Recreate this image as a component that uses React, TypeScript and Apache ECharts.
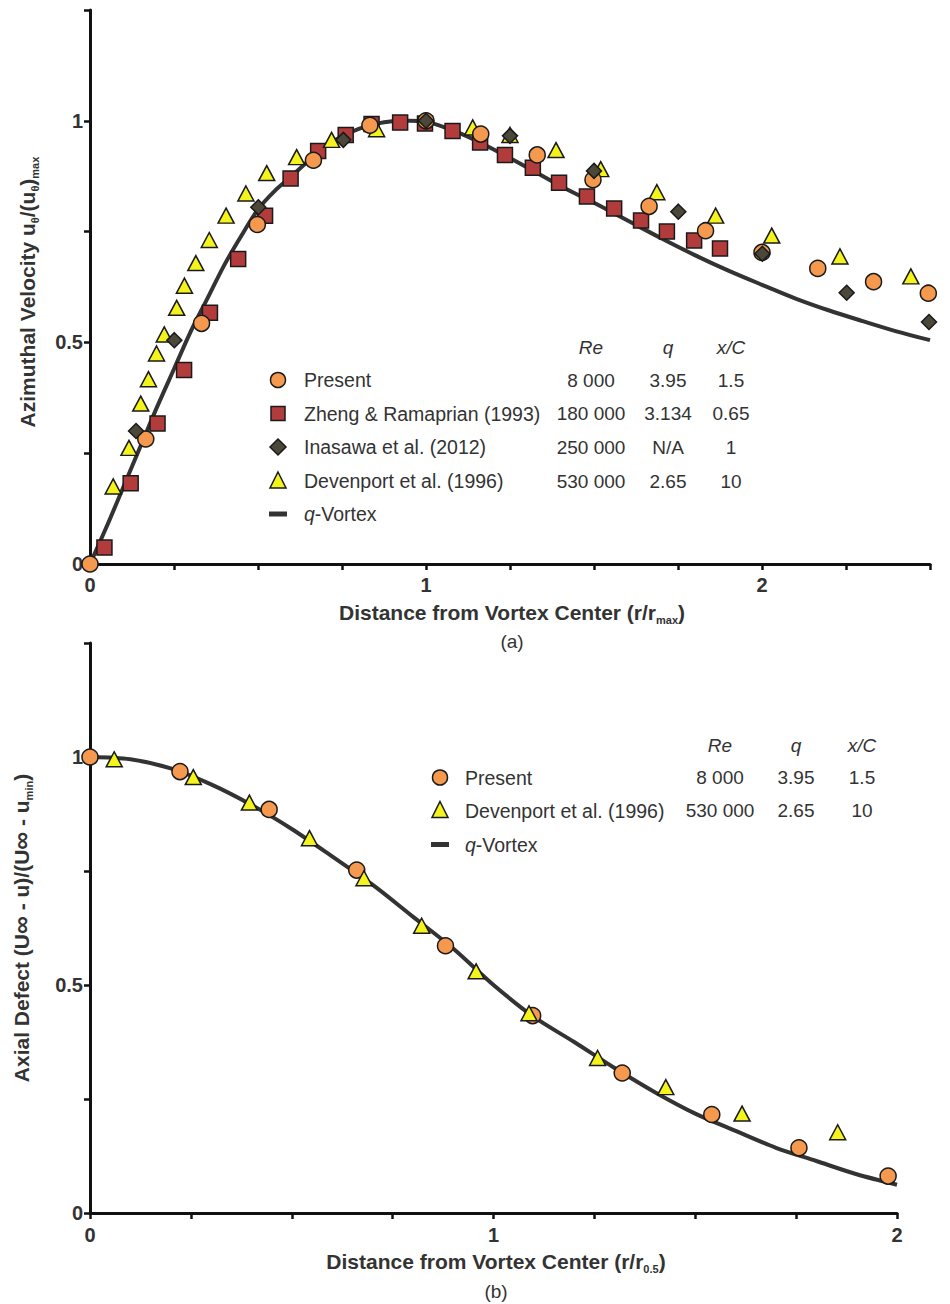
import { useEffect, useRef } from "react";
import * as echarts from "echarts";

const FONT = '"Liberation Sans", Arial, Helvetica, sans-serif';
const INK = "#333333";
const AXIS = "#111111";
const EDGE = "#1a1a1a";

const ORANGE = "#f5994e";
const BRICK = "#b23c3c";
const OLIVE = "#4b4739";
const YELLOW = "#f4f41c";

// ---------- Panel (a): azimuthal velocity vs r/r_max ----------
const presentA_r = [0, 0.166, 0.332, 0.498, 0.665, 0.833, 1.0, 1.163, 1.331, 1.497, 1.664, 1.832, 2.0, 2.166, 2.332, 2.495];
const presentA_u = [0, 0.282, 0.543, 0.766, 0.911, 0.99, 1.0, 0.97, 0.923, 0.867, 0.807, 0.752, 0.703, 0.667, 0.637, 0.611];

const zhengA_r = [0.043, 0.121, 0.201, 0.28, 0.357, 0.441, 0.521, 0.597, 0.679, 0.761, 0.838, 0.923, 0.997, 1.079, 1.161, 1.235, 1.318, 1.396, 1.479, 1.56, 1.64, 1.717, 1.798, 1.875];
const zhengA_u = [0.037, 0.182, 0.317, 0.438, 0.567, 0.688, 0.786, 0.87, 0.932, 0.968, 0.993, 0.996, 0.994, 0.977, 0.951, 0.923, 0.894, 0.86, 0.829, 0.802, 0.775, 0.75, 0.73, 0.712];

const inasawaA_r = [0.137, 0.251, 0.501, 0.754, 1.0, 1.25, 1.5, 1.751, 2.001, 2.252, 2.497];
const inasawaA_u = [0.3, 0.505, 0.805, 0.957, 1.0, 0.966, 0.887, 0.795, 0.7, 0.612, 0.546];

const devenportA_r = [0.069, 0.116, 0.151, 0.174, 0.198, 0.221, 0.258, 0.281, 0.315, 0.355, 0.405, 0.464, 0.526, 0.615, 0.719, 0.853, 1.139, 1.25, 1.387, 1.52, 1.687, 1.862, 2.029, 2.232, 2.443];
const devenportA_u = [0.175, 0.262, 0.362, 0.417, 0.475, 0.518, 0.578, 0.628, 0.679, 0.731, 0.786, 0.836, 0.882, 0.918, 0.957, 0.981, 0.985, 0.968, 0.934, 0.891, 0.839, 0.786, 0.741, 0.694, 0.649];

const qVortexA_r = [0, 0.05, 0.1, 0.15, 0.2, 0.25, 0.3, 0.35, 0.4, 0.45, 0.5, 0.55, 0.6, 0.65, 0.7, 0.75, 0.8, 0.85, 0.9, 0.95, 1.0, 1.1, 1.2, 1.3, 1.4, 1.5, 1.6, 1.7, 1.8, 1.9, 2.0, 2.1, 2.2, 2.3, 2.4, 2.5];
const qVortexA_u = [0, 0.085, 0.175, 0.265, 0.355, 0.44, 0.525, 0.6, 0.675, 0.74, 0.8, 0.842, 0.875, 0.91, 0.942, 0.965, 0.982, 0.993, 0.999, 1.0, 0.998, 0.972, 0.936, 0.895, 0.853, 0.815, 0.775, 0.735, 0.697, 0.662, 0.63, 0.599, 0.572, 0.548, 0.525, 0.505];

// ---------- Panel (b): axial defect vs r/r_0.5 ----------
const presentB_r = [0, 0.223, 0.444, 0.661, 0.881, 1.097, 1.319, 1.541, 1.757, 1.978];
const presentB_w = [1.0, 0.968, 0.885, 0.752, 0.586, 0.433, 0.307, 0.216, 0.143, 0.081];

const devenportB_r = [0.06, 0.256, 0.395, 0.544, 0.679, 0.822, 0.957, 1.088, 1.258, 1.427, 1.616, 1.853];
const devenportB_w = [0.995, 0.956, 0.9, 0.822, 0.734, 0.63, 0.53, 0.438, 0.34, 0.276, 0.218, 0.177];

const qVortexB_r = [0, 0.1, 0.2, 0.3, 0.4, 0.5, 0.6, 0.7, 0.8, 0.9, 1.0, 1.1, 1.2, 1.3, 1.4, 1.5, 1.6, 1.7, 1.8, 1.9, 2.0];
const qVortexB_w = [1.0, 0.995, 0.975, 0.94, 0.895, 0.842, 0.782, 0.72, 0.65, 0.58, 0.5, 0.43, 0.375, 0.318, 0.265, 0.218, 0.18, 0.143, 0.114, 0.085, 0.062];

// ---------- Legend tables ----------
const tableHeaders = ["Re", "q", "x/C"];
const tableA = [
  { name: "Present", marker: "circle", values: ["8 000", "3.95", "1.5"] },
  { name: "Zheng & Ramaprian (1993)", marker: "square", values: ["180 000", "3.134", "0.65"] },
  { name: "Inasawa et al. (2012)", marker: "diamond", values: ["250 000", "N/A", "1"] },
  { name: "Devenport et al. (1996)", marker: "triangle", values: ["530 000", "2.65", "10"] },
  { name: "q-Vortex", marker: "bar", values: [] as string[] },
];
const tableB = [
  { name: "Present", marker: "circle", values: ["8 000", "3.95", "1.5"] },
  { name: "Devenport et al. (1996)", marker: "triangle", values: ["530 000", "2.65", "10"] },
  { name: "q-Vortex", marker: "bar", values: [] as string[] },
];

const xTicksLabelled = [0, 1, 2];
const yTicksLabelled = [0, 0.5, 1];

const zip = (xs: number[], ys: number[]) => xs.map((x, i) => [x, ys[i]]);

const markerStyle = (fill: string) => ({ color: fill, borderColor: EDGE, borderWidth: 1.5, opacity: 1 });

function legendMarker(kind: string, cx: number, cy: number): any {
  const st = { stroke: EDGE, lineWidth: 1.5 };
  switch (kind) {
    case "circle":
      return { type: "circle", z: 100, shape: { cx, cy, r: 7.5 }, style: { ...st, fill: ORANGE } };
    case "square":
      return { type: "rect", z: 100, shape: { x: cx - 7, y: cy - 7, width: 14, height: 14 }, style: { ...st, fill: BRICK } };
    case "diamond":
      return { type: "polygon", z: 100, shape: { points: [[cx, cy - 8], [cx + 8, cy], [cx, cy + 8], [cx - 8, cy]] }, style: { ...st, fill: OLIVE } };
    case "triangle":
      return { type: "polygon", z: 100, shape: { points: [[cx, cy - 9], [cx + 8, cy + 7], [cx - 8, cy + 7]] }, style: { ...st, fill: YELLOW } };
    default:
      return { type: "rect", z: 100, shape: { x: cx - 9, y: cy - 2.5, width: 18, height: 5 }, style: { fill: INK } };
  }
}

function text(x: number, y: number, t: string, opts: any = {}): any {
  return {
    type: "text",
    z: 100,
    x,
    y,
    style: {
      text: t,
      fontSize: opts.size ?? 19,
      fontFamily: FONT,
      fontStyle: opts.italic ? "italic" : "normal",
      fontWeight: opts.bold ? "bold" : "normal",
      fill: INK,
      align: opts.align ?? "left",
      verticalAlign: "middle",
    },
  };
}

function legendTable(
  rows: typeof tableA,
  markerX: number,
  textX: number,
  headerY: number,
  rowYs: number[],
  colX: number[]
): any[] {
  const out: any[] = [];
  tableHeaders.forEach((h, i) => out.push(text(colX[i], headerY, h, { italic: true, align: "center" })));
  rows.forEach((row, r) => {
    out.push(legendMarker(row.marker, markerX, rowYs[r]));
    if (row.name === "q-Vortex") {
      out.push({
        type: "text",
        z: 100,
        x: textX,
        y: rowYs[r],
        style: {
          text: "{i|q}{n|-Vortex}",
          align: "left",
          verticalAlign: "middle",
          rich: {
            i: { fontSize: 19.5, fontFamily: FONT, fontStyle: "italic", fill: INK },
            n: { fontSize: 19.5, fontFamily: FONT, fill: INK },
          },
        },
      });
    } else {
      out.push(text(textX, rowYs[r], row.name, { size: 19.5 }));
    }
    row.values.forEach((v, c) => out.push(text(colX[c], rowYs[r], v, { align: "center" })));
  });
  return out;
}

const titleRich = {
  t: { fontSize: 21, fontWeight: "bold", fontFamily: FONT, fill: INK, lineHeight: 26 },
  inf: { fontSize: 25, fontWeight: "bold", fontFamily: FONT, fill: INK, lineHeight: 26 },
  s: { fontSize: 11, fontWeight: "bold", fontFamily: FONT, fill: INK, lineHeight: 11, verticalAlign: "bottom" },
};

function title(x: number, y: number, t: string, rotate = false): any {
  return {
    type: "text",
    z: 100,
    x,
    y,
    rotation: rotate ? Math.PI / 2 : 0,
    style: { text: t, align: "center", verticalAlign: "middle", rich: titleRich },
  };
}

function axisCommon(labelled: number[], margin: number) {
  return {
    axisLine: { show: true, onZero: false, lineStyle: { color: AXIS, width: 3 } },
    axisTick: { show: true, inside: false, length: 6, lineStyle: { color: AXIS, width: 2.5 } },
    splitLine: { show: false },
    axisLabel: {
      margin,
      color: INK,
      fontSize: 20,
      fontWeight: "bold",
      fontFamily: FONT,
      formatter: (v: number) => (labelled.some((l) => Math.abs(l - v) < 1e-9) ? String(v) : ""),
    },
  };
}

export default function App() {
  const ref = useRef<HTMLDivElement>(null);

  useEffect(() => {
    document.body.style.margin = "0";
    if (!ref.current) return;
    const chart = echarts.init(ref.current, undefined, { renderer: "svg" });

    const option: any = {
      animation: false,
      backgroundColor: "#ffffff",
      grid: [
        { left: 90, top: 10, width: 840, height: 554 },
        { left: 90, top: 643, width: 807, height: 570 },
      ],
      xAxis: [
        { type: "value", gridIndex: 0, min: 0, max: 2.5, interval: 0.25, ...axisCommon(xTicksLabelled, 11) },
        { type: "value", gridIndex: 1, min: 0, max: 2, interval: 0.25, ...axisCommon(xTicksLabelled, 12) },
      ],
      yAxis: [
        { type: "value", gridIndex: 0, min: 0, max: 1.25, interval: 0.25, ...axisCommon(yTicksLabelled, 7) },
        { type: "value", gridIndex: 1, min: 0, max: 1.25, interval: 0.25, ...axisCommon(yTicksLabelled, 7) },
      ],
      series: [
        {
          name: "q-Vortex (a)",
          type: "line",
          xAxisIndex: 0,
          yAxisIndex: 0,
          data: zip(qVortexA_r, qVortexA_u),
          symbol: "none",
          smooth: 0.3,
          lineStyle: { color: INK, width: 4 },
          z: 2,
        },
        {
          name: "Zheng & Ramaprian (1993)",
          type: "scatter",
          xAxisIndex: 0,
          yAxisIndex: 0,
          data: zip(zhengA_r, zhengA_u),
          symbol: "rect",
          symbolSize: 15,
          itemStyle: markerStyle(BRICK),
          z: 3,
        },
        {
          name: "Devenport et al. (1996) (a)",
          type: "scatter",
          xAxisIndex: 0,
          yAxisIndex: 0,
          data: zip(devenportA_r, devenportA_u),
          symbol: "triangle",
          symbolSize: [16, 15],
          itemStyle: markerStyle(YELLOW),
          z: 4,
        },
        {
          name: "Present (a)",
          type: "scatter",
          xAxisIndex: 0,
          yAxisIndex: 0,
          data: zip(presentA_r, presentA_u),
          symbol: "circle",
          symbolSize: 16,
          itemStyle: markerStyle(ORANGE),
          z: 5,
        },
        {
          name: "Inasawa et al. (2012)",
          type: "scatter",
          xAxisIndex: 0,
          yAxisIndex: 0,
          data: zip(inasawaA_r, inasawaA_u),
          symbol: "diamond",
          symbolSize: [15, 15],
          itemStyle: markerStyle(OLIVE),
          z: 6,
        },
        {
          name: "q-Vortex (b)",
          type: "line",
          xAxisIndex: 1,
          yAxisIndex: 1,
          data: zip(qVortexB_r, qVortexB_w),
          symbol: "none",
          smooth: 0.3,
          lineStyle: { color: INK, width: 4 },
          z: 2,
        },
        {
          name: "Present (b)",
          type: "scatter",
          xAxisIndex: 1,
          yAxisIndex: 1,
          data: zip(presentB_r, presentB_w),
          symbol: "circle",
          symbolSize: 16,
          itemStyle: markerStyle(ORANGE),
          z: 3,
        },
        {
          name: "Devenport et al. (1996) (b)",
          type: "scatter",
          xAxisIndex: 1,
          yAxisIndex: 1,
          data: zip(devenportB_r, devenportB_w),
          symbol: "triangle",
          symbolSize: [16, 15],
          itemStyle: markerStyle(YELLOW),
          z: 4,
        },
      ],
      graphic: [
        ...legendTable(tableA, 278, 304, 347, [380, 413.5, 447, 481, 514], [591, 668, 731]),
        ...legendTable(tableB, 440, 465, 745, [777.5, 810.5, 844.5], [720, 796, 862]),
        title(512, 612, "{t|Distance from Vortex Center (r/r}{s|max}{t|)}"),
        text(512, 641, "(a)", { align: "center" }),
        title(27, 292, "{t|Azimuthal Velocity u}{s|θ}{t|/(u}{s|θ}{t|)}{s|max}", true),
        title(496, 1261, "{t|Distance from Vortex Center (r/r}{s|0.5}{t|)}"),
        text(496, 1291, "(b)", { align: "center" }),
        title(21, 928, "{t|Axial Defect (U}{inf|∞}{t| - u)/(U}{inf|∞}{t| - u}{s|min}{t|)}", true),
      ],
    };

    chart.setOption(option);
    return () => chart.dispose();
  }, []);

  return (
    <div
      ref={ref}
      style={{ position: "absolute", left: 0, top: 0, width: 950, height: 1304, background: "#fff" }}
    />
  );
}
